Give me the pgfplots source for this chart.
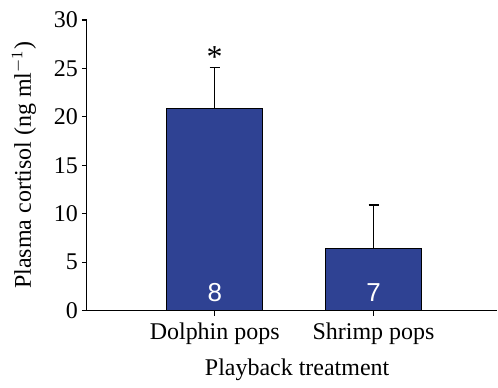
\documentclass[border=0pt]{standalone}
\usepackage{pgfplots}
\pgfplotsset{compat=1.18}
\usepackage{fontspec}
\setmainfont{Liberation Serif}
\newfontfamily\arialfont{Liberation Sans}
\definecolor{barblue}{RGB}{47,66,147}
\begin{document}
\begin{tikzpicture}
\begin{axis}[
  scale only axis,
  width=205.5pt, height=145.5pt,
  xmin=0.195, xmax=2.78, ymin=0, ymax=30,
  axis x line=bottom, axis y line=left,
  axis line style={-, line width=0.6pt},
  xtick={1,2}, xticklabels={Dolphin pops, Shrimp pops},
  ytick={0,5,10,15,20,25,30},
  tick align=outside, major tick length=2.5pt,
  tick style={line width=0.6pt, black},
  ticklabel style={font=\fontsize{12}{14}\selectfont},
  yticklabel style={xshift=1.5pt},
  /pgf/number format/assume math mode=true,
  xlabel={Playback treatment},
  ylabel={Plasma cortisol (ng ml$^{-1}$)},
  label style={font=\fontsize{12}{14}\selectfont},
  xlabel style={yshift=-0.5pt, xshift=2.5pt},
  ylabel style={yshift=2pt},
  clip=false,
]
\addplot[ybar, bar width=48pt, fill=barblue, draw=black, line width=0.6pt,
  error bars/.cd, y dir=plus, y explicit,
  error bar style={line width=0.6pt, black},
  error mark options={mark size=2.5pt, line width=0.6pt, black, rotate=90}]
  coordinates {(1,20.9) +- (0,4.2) (2,6.4) +- (0,4.5)};
\node[text=white, font=\arialfont\fontsize{13}{15}\selectfont] at (axis cs:1,1.9) {8};
\node[text=white, font=\arialfont\fontsize{13}{15}\selectfont] at (axis cs:2,1.9) {7};
\node[font=\fontsize{16}{18}\selectfont] at (axis cs:1,26.2) {*};
\path (rel axis cs:0,0) ++(-43.5pt,-34pt);
\path (rel axis cs:1,1) ++(0,10pt);
\end{axis}
\end{tikzpicture}
\end{document}
